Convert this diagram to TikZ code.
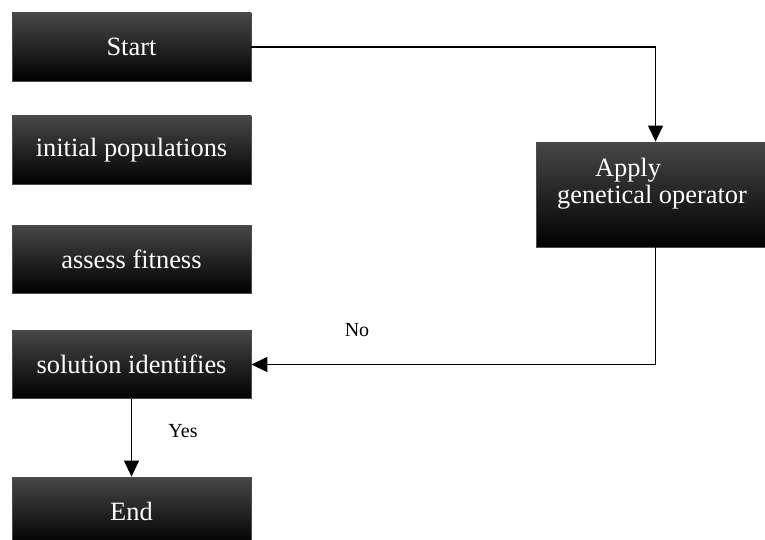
\documentclass[tikz,border=0pt]{standalone}
\usepackage{fontspec}
\setmainfont{Liberation Serif}
\usetikzlibrary{arrows.meta}
\tikzset{>={Triangle[length=8pt,width=7.5pt]}}
\tikzset{
  stepbox/.style={draw=black!70, line width=0.4pt, top color=black!72,
    middle color=black, bottom color=black, text=white,
    minimum width=119.5pt, minimum height=34pt, inner sep=0pt,
    font=\fontsize{13.2}{13.5}\selectfont},
  lbl/.style={font=\fontsize{10}{12}\selectfont}
}

\begin{document}
\begin{tikzpicture}[x=0.5pt,y=-0.5pt]
\clip (0,0) rectangle (765,540);
\node[stepbox] (start) at (131.5,47) {Start};
\node[stepbox] (init) at (131.5,150) {initial populations};
\node[stepbox] (fit) at (131.5,259) {assess fitness};
\node[stepbox] (sol) at (131.5,364.5) {solution identifies};
\node[stepbox] (end) at (131.5,511) {End};
\node[stepbox, minimum height=52.5pt] (apply) at (655.5,194.5) {};
\node[text=white, align=center, inner sep=0pt, font=\fontsize{13.2}{13.5}\selectfont] (applytext) at (652,184) {\hspace*{-24pt}Apply\\genetical operator};
\draw[line width=0.6pt,->] (start.east) -| (apply.north);
\draw[line width=0.6pt,->] (apply.south) |- (sol.east);
\draw[line width=0.6pt,->] (sol.south) -- (end.north);
\node[lbl] (no) at (357,330) {No};
\node[lbl] (yes) at (183,431) {Yes};
\end{tikzpicture}
\end{document}
